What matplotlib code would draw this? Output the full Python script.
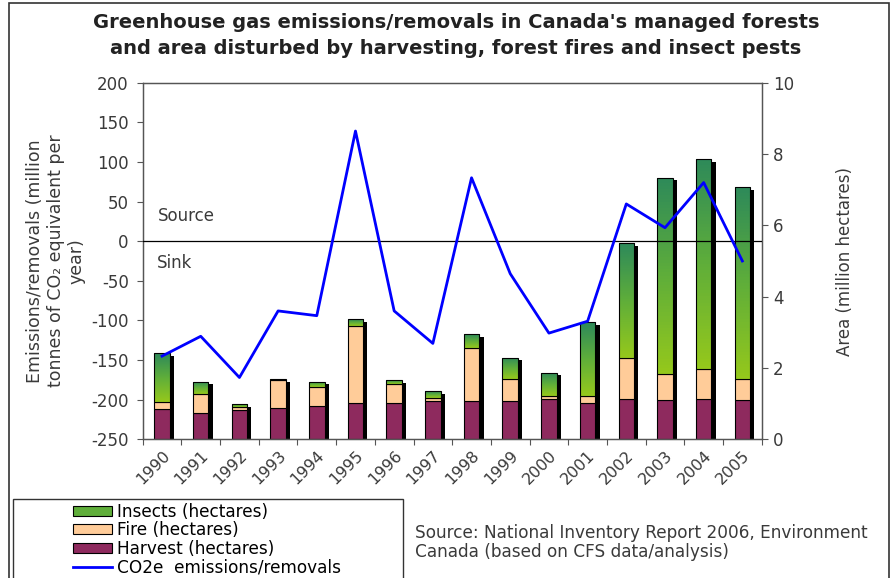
import numpy as np
import matplotlib
matplotlib.use("Agg")
from matplotlib import pyplot as plt
from matplotlib.colors import LinearSegmentedColormap
from matplotlib.patches import Patch, Rectangle
from matplotlib.lines import Line2D

years = [str(y) for y in range(1990, 2006)]
# million hectares (right axis)
harvest = [0.84, 0.75, 0.83, 0.89, 0.94, 1.01, 1.01, 1.07, 1.07, 1.07, 1.12, 1.03, 1.14, 1.10, 1.14, 1.10]
fire = [0.22, 0.52, 0.08, 0.76, 0.52, 2.18, 0.54, 0.10, 1.50, 0.63, 0.09, 0.19, 1.15, 0.73, 0.82, 0.59]
insects = [1.35, 0.35, 0.07, 0.04, 0.16, 0.19, 0.10, 0.18, 0.38, 0.59, 0.66, 2.07, 3.22, 5.51, 5.90, 5.38]
# Mt CO2e per year (left axis)
emissions = [-145, -120, -172, -88, -94, 139, -88, -129, 80, -41, -116, -101, 47, 17, 74, -25]

HARVEST_C = "#8E2A5E"
FIRE_C = "#FFCC99"
INSECT_TOP = "#2E8A5A"
INSECT_BOT = "#95C81C"
TXT = "#3a3a3a"

FW, FH = 896, 578


def fx(px):
    return px / FW


def fy(py):
    return 1 - py / FH


def draw_bars(ax):
    x = np.arange(len(years))
    w = 0.40
    h = np.array(harvest)
    f = np.array(fire)
    ins = np.array(insects)
    total = h + f + ins

    # drop shadow
    ax.bar(x + 0.11, total - 0.08, width=w, color="black", zorder=1)
    ax.bar(x, h, width=w, color=HARVEST_C, edgecolor="black", linewidth=0.8, zorder=2)
    ax.bar(x, f, bottom=h, width=w, color=FIRE_C, edgecolor="black", linewidth=0.8, zorder=2)
    rects = ax.bar(x, ins, bottom=h + f, width=w, color="none", edgecolor="black",
                   linewidth=0.8, zorder=3)

    cmap = LinearSegmentedColormap.from_list("ins", [INSECT_BOT, "#5FAE3A", INSECT_TOP])
    grad = np.linspace(0, 1, 64).reshape(-1, 1)
    for xi, r, b, t in zip(x, rects, h + f, total):
        im = ax.imshow(grad, extent=(xi - w / 2, xi + w / 2, b, t), origin="lower",
                       aspect="auto", cmap=cmap, zorder=2.5)
        im.set_clip_path(r)


def main() -> None:
    plt.rcParams["font.family"] = "DejaVu Sans"
    plt.rcParams["axes.unicode_minus"] = False
    fig = plt.figure(figsize=(FW / 100, FH / 100), dpi=100)

    left, right, top, bottom = 142.7, 761.7, 82.7, 439.3
    ax_bar = fig.add_axes([fx(left), fy(bottom), fx(right - left), (bottom - top) / FH])
    ax_line = ax_bar.twinx()

    draw_bars(ax_bar)
    ax_bar.set_xlim(-0.5, len(years) - 0.5)
    ax_bar.set_ylim(0, 10)
    ax_bar.yaxis.tick_right()
    ax_bar.yaxis.set_label_position("right")
    ax_bar.set_yticks(np.arange(0, 11, 2))
    ax_bar.set_xticks(np.arange(-0.5, len(years), 1.0))
    ax_bar.set_xticklabels([])
    ax_bar.set_xticks(np.arange(len(years)), minor=True)
    ax_bar.set_xticklabels(years, minor=True, rotation=45, ha="right",
                           rotation_mode="anchor", fontsize=11.5, color=TXT)
    ax_bar.tick_params(axis="x", which="minor", length=0, pad=6)
    ax_bar.tick_params(axis="x", which="major", length=4, direction="out", color="#555555")
    ax_bar.tick_params(axis="y", labelsize=12, labelcolor=TXT, length=4, color="#555555", pad=4)
    ax_bar.set_ylabel("Area (million hectares)", fontsize=12, color=TXT, labelpad=30)

    ax_line.yaxis.tick_left()
    ax_line.yaxis.set_label_position("left")
    ax_line.plot(np.arange(len(years)), emissions, color="#0000FF", linewidth=2.0, zorder=5)
    ax_line.axhline(0, color="black", linewidth=0.9, zorder=4)
    ax_line.set_ylim(-250, 200)
    ax_line.set_yticks(np.arange(-250, 201, 50))
    ax_line.tick_params(axis="y", labelsize=12, labelcolor=TXT, length=4, color="#555555", pad=6)
    ax_line.set_ylabel("Emissions/removals (million\ntonnes of CO\u2082 equivalent per\nyear)",
                       fontsize=12.5, color=TXT, labelpad=4, linespacing=1.2)
    ax_line.text(-0.105, 32, "Source", fontsize=12, color=TXT, va="center")
    ax_line.text(-0.13, -27, "Sink", fontsize=12, color=TXT, va="center")

    for a in (ax_bar, ax_line):
        for s in a.spines.values():
            s.set_color("#555555")
            s.set_linewidth(0.9)

    fig.text(0.509, fy(22), "Greenhouse gas emissions/removals in Canada's managed forests",
             ha="center", va="center", fontsize=14, fontweight="bold", color="#222222")
    fig.text(0.509, fy(48), "and area disturbed by harvesting, forest fires and insect pests",
             ha="center", va="center", fontsize=14, fontweight="bold", color="#222222")

    # outer frame and legend box
    fig.add_artist(Rectangle((fx(9), fy(600)), fx(880), (600 - 3) / FH, fill=False,
                             edgecolor="#333333", linewidth=1.2, transform=fig.transFigure))
    fig.add_artist(Rectangle((fx(13), fy(600)), fx(390), (600 - 499) / FH, fill=False,
                             edgecolor="#333333", linewidth=1.0, transform=fig.transFigure))

    handles = [
        Patch(facecolor="#5FAE3A", edgecolor="black", linewidth=0.8),
        Patch(facecolor=FIRE_C, edgecolor="black", linewidth=0.8),
        Patch(facecolor=HARVEST_C, edgecolor="black", linewidth=0.8),
        Line2D([], [], color="#0000FF", linewidth=2.0),
    ]
    labels = ["Insects (hectares)", "Fire (hectares)", "Harvest (hectares)",
              "CO2e  emissions/removals"]
    fig.legend(handles, labels, loc="upper left", bbox_to_anchor=(fx(59), fy(489)),
               frameon=False, fontsize=12.2, handlelength=2.3, handleheight=0.53,
               handletextpad=0.3, labelspacing=0.04, borderpad=0.3)

    fig.text(fx(415), fy(533), "Source: National Inventory Report 2006, Environment",
             fontsize=12.2, color=TXT, va="center")
    fig.text(fx(415), fy(552), "Canada (based on CFS data/analysis)",
             fontsize=12.2, color=TXT, va="center")

    fig.savefig("out.png", dpi=100)
    plt.close(fig)


if __name__ == "__main__":
    main()
